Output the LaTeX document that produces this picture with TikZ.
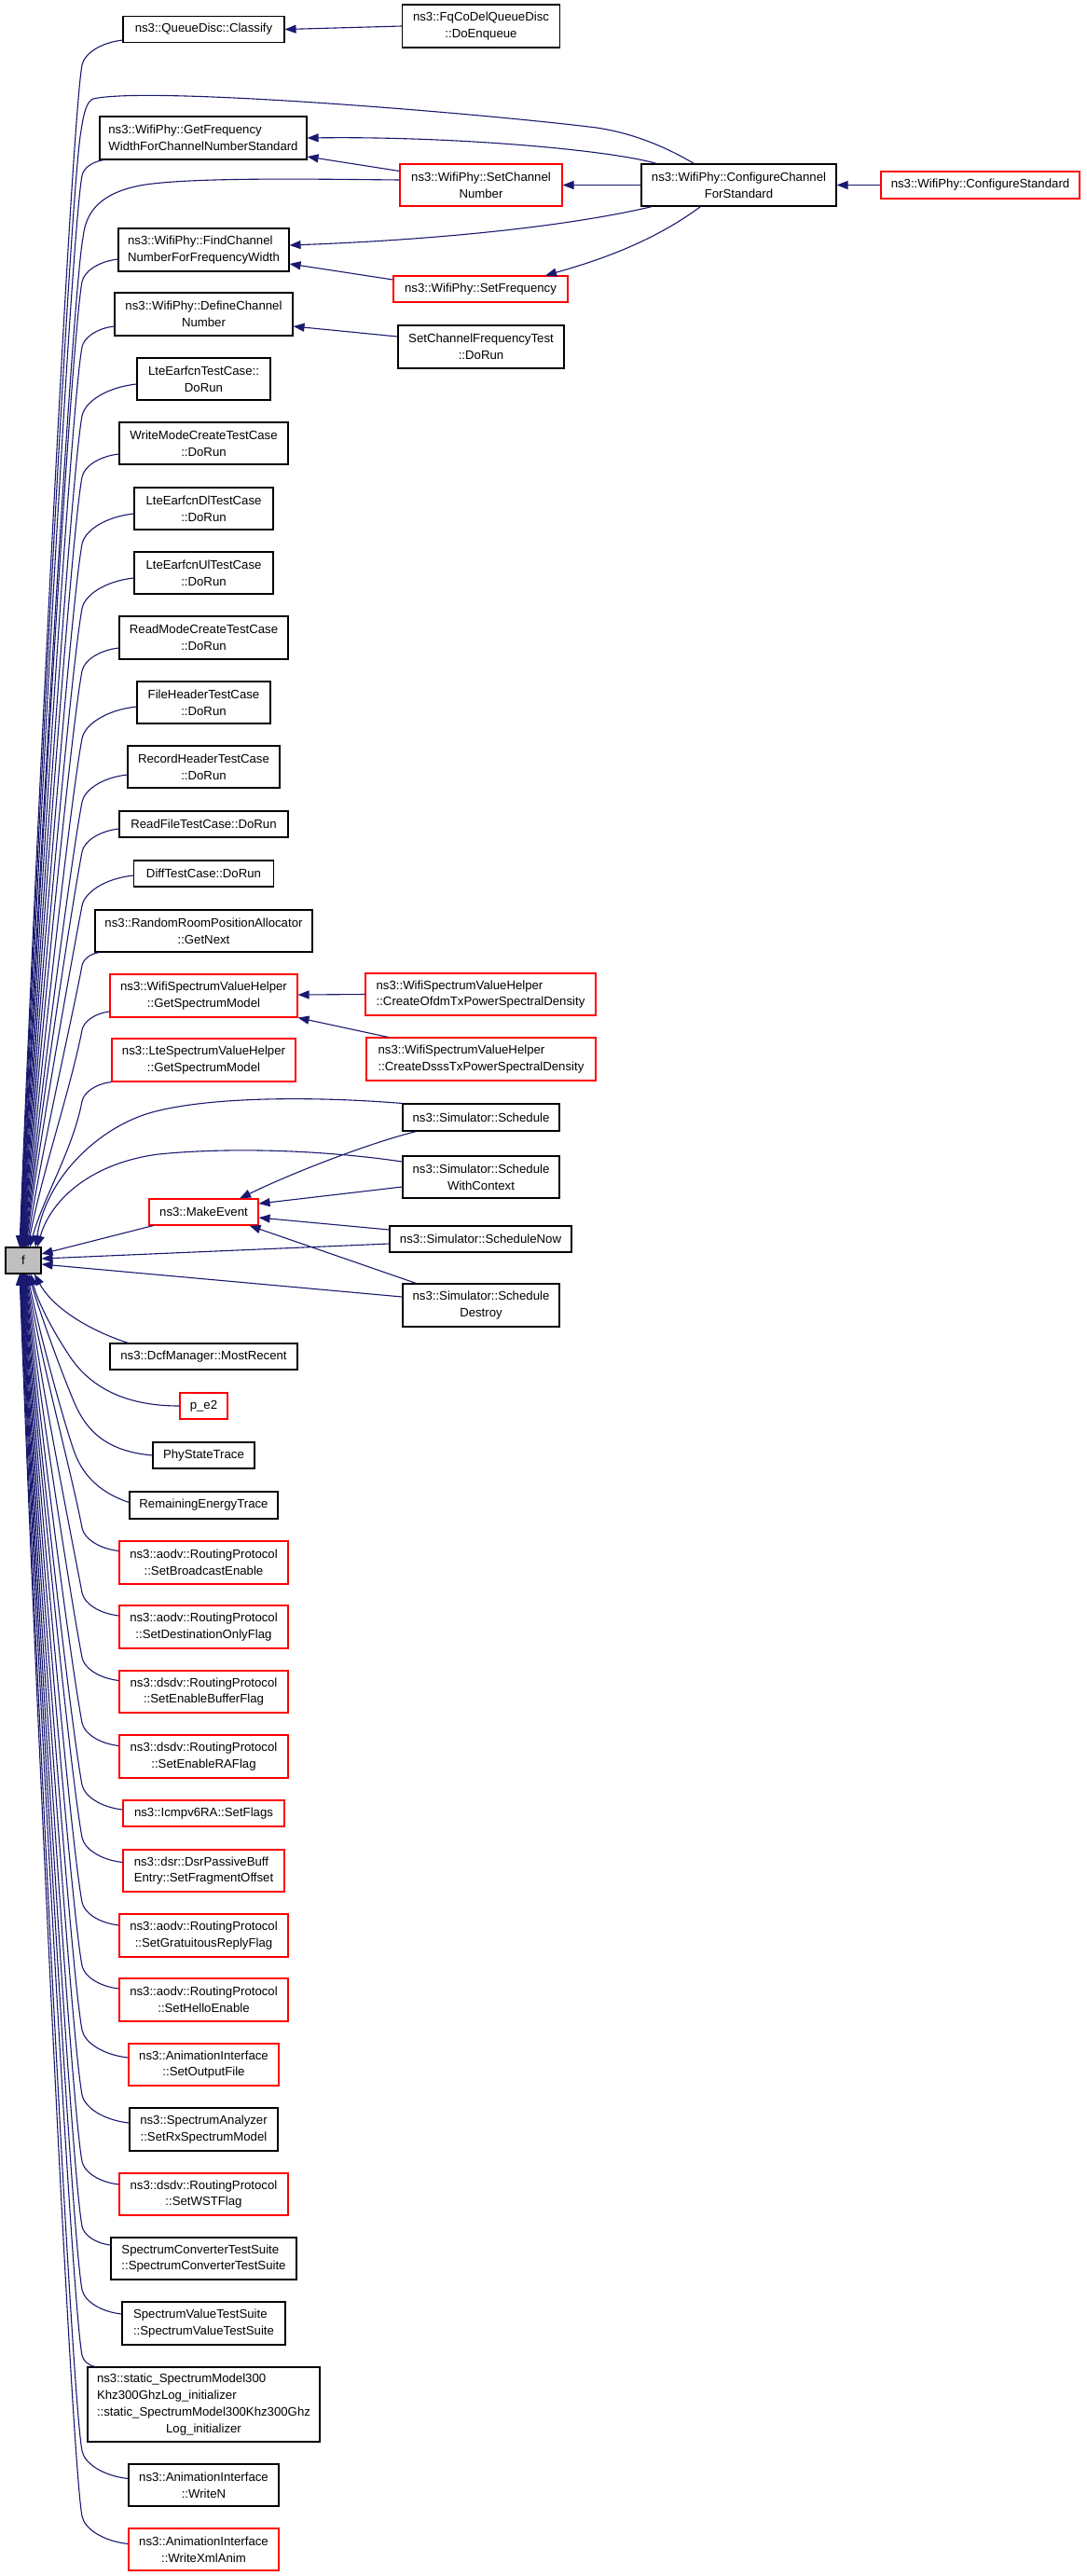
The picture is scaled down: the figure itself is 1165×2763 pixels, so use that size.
\documentclass[tikz,border=0pt]{standalone}
\usepackage{fontspec}
\setmainfont{Liberation Sans}
\usetikzlibrary{arrows.meta,calc}
\definecolor{edgeblue}{HTML}{191970}
\definecolor{boxred}{HTML}{FF0000}
\definecolor{fgrey}{HTML}{BFBFBF}
\tikzset{
  nbox/.style={draw=black, line width=1.1pt, fill=white, inner sep=0pt, align=center,
    font=\fontsize{13.2}{17.8}\selectfont},
  rnbox/.style={nbox, draw=boxred},
  wh/.style 2 args={minimum width=#1pt, minimum height=#2pt},
  calledge/.style={draw=edgeblue, line width=1.1pt, -{Triangle[length=12pt,width=9pt]}},
}
% fan edge from a node above f to the top of f
\newcommand\FanUp[2]{%
\draw[calledge] let \p1=(#1), \p2=(#2),
  \n1={0.5*(\x1-88pt)+5pt},
  \n2={\y1-\n1},
  \n3={\n2-\y2},
  \n4={min(60pt,\n3/3)}
 in (\p1) .. controls ({\x1-0.55*(\x1-88pt)},{\y1-0.1*\n1}) and ({88pt+0.0855*\n1},{\y1-0.55*\n1}) .. (88pt,\n2)
   .. controls ({88pt-0.19*\n4},{\n2-\n4}) and ({\x2+0.25*(88pt-\x2)},{\y2+\n3/3}) .. (\p2);}
% fan edge from a node below f to the bottom of f
\newcommand\FanDown[2]{%
\draw[calledge] let \p1=(#1), \p2=(#2),
  \n1={0.5*(\x1-88pt)+5pt},
  \n2={\y1+\n1},
  \n3={\y2-\n2},
  \n4={min(60pt,\n3/3)}
 in (\p1) .. controls ({\x1-0.55*(\x1-88pt)},{\y1+0.1*\n1}) and ({88pt+0.0855*\n1},{\y1+0.55*\n1}) .. (88pt,\n2)
   .. controls ({88pt-0.19*\n4},{\n2+\n4}) and ({\x2+0.25*(88pt-\x2)},{\y2-\n3/3}) .. (\p2);}
\begin{document}
\begin{tikzpicture}[x=1pt,y=-1pt]
\fill[white] (0,0) rectangle (1165,2763);
\useasboundingbox (0,0) rectangle (1165,2763);

% ---------------- nodes ----------------
\node[nbox, fill=fgrey, wh={38}{28}] (f) at (25,1352) {f};

\node[nbox, wh={173}{28}] (c1) at (218.5,31.5) {ns3::QueueDisc::Classify};
\node[nbox, wh={222}{46}, align=left] (c2) at (218,148) {ns3::WifiPhy::GetFrequency\\WidthForChannelNumberStandard};
\node[nbox, wh={183}{46}, align=left] (c3) at (218.5,268) {ns3::WifiPhy::FindChannel\\NumberForFrequencyWidth};
\node[nbox, wh={191}{46}] (c4) at (218.5,337) {ns3::WifiPhy::DefineChannel\\Number};
\node[nbox, wh={143}{45}] (c5) at (218.5,406.5) {LteEarfcnTestCase::\\DoRun};
\node[nbox, wh={181}{45}] (c6) at (218.5,475.5) {WriteModeCreateTestCase\\::DoRun};
\node[nbox, wh={149}{45}] (c7) at (218.5,545.5) {LteEarfcnDlTestCase\\::DoRun};
\node[nbox, wh={149}{45}] (c8) at (218.5,614.5) {LteEarfcnUlTestCase\\::DoRun};
\node[nbox, wh={181}{46}] (c9) at (218.5,684) {ReadModeCreateTestCase\\::DoRun};
\node[nbox, wh={143}{45}] (c10) at (218.5,753.5) {FileHeaderTestCase\\::DoRun};
\node[nbox, wh={163}{45}] (c11) at (218.5,822.5) {RecordHeaderTestCase\\::DoRun};
\node[nbox, wh={181}{28}] (c12) at (218.5,884) {ReadFileTestCase::DoRun};
\node[nbox, wh={150}{28}] (c13) at (218.5,937) {DiffTestCase::DoRun};
\node[nbox, wh={233}{45}] (c14) at (218.5,998.5) {ns3::RandomRoomPositionAllocator\\::GetNext};
\node[rnbox, wh={201}{46}] (c15) at (218.5,1068) {ns3::WifiSpectrumValueHelper\\::GetSpectrumModel};
\node[rnbox, wh={197}{46}] (c16) at (218.5,1137) {ns3::LteSpectrumValueHelper\\::GetSpectrumModel};
\node[rnbox, wh={117}{28}] (c17) at (218.5,1300) {ns3::MakeEvent};
\node[nbox, wh={201}{28}] (c18) at (218.5,1455) {ns3::DcfManager::MostRecent};
\node[rnbox, wh={51}{28}] (c19) at (218.5,1508) {p\_e2};
\node[nbox, wh={109}{28}] (c20) at (218.5,1561) {PhyStateTrace};
\node[nbox, wh={159}{29}] (c21) at (218.5,1614.5) {RemainingEnergyTrace};
\node[rnbox, wh={181}{46}] (c22) at (218.5,1676) {ns3::aodv::RoutingProtocol\\::SetBroadcastEnable};
\node[rnbox, wh={181}{46}] (c23) at (218.5,1745) {ns3::aodv::RoutingProtocol\\::SetDestinationOnlyFlag};
\node[rnbox, wh={181}{45}] (c24) at (218.5,1814.5) {ns3::dsdv::RoutingProtocol\\::SetEnableBufferFlag};
\node[rnbox, wh={181}{46}] (c25) at (218.5,1884) {ns3::dsdv::RoutingProtocol\\::SetEnableRAFlag};
\node[rnbox, wh={173}{28}] (c26) at (218.5,1945) {ns3::Icmpv6RA::SetFlags};
\node[rnbox, wh={173}{45}, align=left] (c27) at (218.5,2006.5) {ns3::dsr::DsrPassiveBuff\\Entry::SetFragmentOffset};
\node[rnbox, wh={181}{46}] (c28) at (218.5,2076) {ns3::aodv::RoutingProtocol\\::SetGratuitousReplyFlag};
\node[rnbox, wh={181}{46}] (c29) at (218.5,2145) {ns3::aodv::RoutingProtocol\\::SetHelloEnable};
\node[rnbox, wh={161}{45}] (c30) at (218.5,2214.5) {ns3::AnimationInterface\\::SetOutputFile};
\node[nbox, wh={159}{46}] (c31) at (218.5,2284) {ns3::SpectrumAnalyzer\\::SetRxSpectrumModel};
\node[rnbox, wh={181}{45}] (c32) at (218.5,2353.5) {ns3::dsdv::RoutingProtocol\\::SetWSTFlag};
\node[nbox, wh={199}{45}, align=left] (c33) at (218.5,2422.5) {SpectrumConverterTestSuite\\::SpectrumConverterTestSuite};
\node[nbox, wh={175}{46}, align=left] (c34) at (218.5,2492) {SpectrumValueTestSuite\\::SpectrumValueTestSuite};
\node[nbox, wh={249}{80}] (c35) at (218.5,2579) {\begin{tabular}{@{}l@{}}ns3::static\_SpectrumModel300\\Khz300GhzLog\_initializer\\::static\_SpectrumModel300Khz300Ghz\\\multicolumn{1}{@{}c@{}}{Log\_initializer}\end{tabular}};
\node[nbox, wh={161}{45}] (c36) at (218.5,2665.5) {ns3::AnimationInterface\\::WriteN};
\node[rnbox, wh={161}{45}] (c37) at (218.5,2734.5) {ns3::AnimationInterface\\::WriteXmlAnim};

\node[nbox, wh={169}{46}] (d1) at (516,28) {ns3::FqCoDelQueueDisc\\::DoEnqueue};
\node[rnbox, wh={174}{45}] (d2) at (516,198.5) {ns3::WifiPhy::SetChannel\\Number};
\node[rnbox, wh={187}{28}] (d3) at (515.5,310) {ns3::WifiPhy::SetFrequency};
\node[nbox, wh={178}{46}] (d4) at (516,372) {SetChannelFrequencyTest\\::DoRun};
\node[rnbox, wh={247}{45}, align=left] (d5) at (515.5,1066.5) {ns3::WifiSpectrumValueHelper\\::CreateOfdmTxPowerSpectralDensity};
\node[rnbox, wh={246}{46}, align=left] (d6) at (516,1136) {ns3::WifiSpectrumValueHelper\\::CreateDsssTxPowerSpectralDensity};
\node[nbox, wh={168}{29}] (d7) at (516,1198.5) {ns3::Simulator::Schedule};
\node[nbox, wh={168}{45}] (d8) at (516,1262.5) {ns3::Simulator::Schedule\\WithContext};
\node[nbox, wh={195}{28}] (d9) at (515.5,1329) {ns3::Simulator::ScheduleNow};
\node[nbox, wh={168}{46}] (d10) at (516,1400) {ns3::Simulator::Schedule\\Destroy};

\node[nbox, wh={209}{45}] (e1) at (792.5,198.5) {ns3::WifiPhy::ConfigureChannel\\ForStandard};
\node[rnbox, wh={213}{29}] (e2) at (1051.5,198.5) {ns3::WifiPhy::ConfigureStandard};

% ---------------- edges: top cluster ----------------
\draw[calledge] (d1.west) -- (c1.east);
\draw[calledge] ($(d2.west)+(0,-15)$) -- ($(c2.east)+(0,20)$);
\draw[calledge] ($(e1.north west)+(17,0)$) .. controls (650,160) and (480,146) .. (c2.east);
\draw[calledge] (e1.west) -- (d2.east);
\draw[calledge] (e2.west) -- (e1.east);
\draw[calledge] ($(e1.south west)+(12,0)$) .. controls (600,245) and (450,258) .. ($(c3.east)+(0,-5)$);
\draw[calledge] ($(d3.west)+(0,-10)$) -- ($(c3.east)+(0,15)$);
\draw[calledge] ($(e1.south west)+(64,0)$) .. controls (700,260) and (640,280) .. ($(d3.north)+(69.5,0)$);
\draw[calledge] ($(d4.west)+(0,-11)$) -- ($(c4.east)+(0,13)$);

% ---------------- edges: spectrum / simulator ----------------
\draw[calledge] (d5.west) -- ($(c15.east)+(0,-1)$);
\draw[calledge] ($(d6.north west)+(24,0)$) -- (c15.south east);
\draw[calledge] ($(d7.south west)+(15,0)$) .. controls (400,1225) and (320,1255) .. ($(c17.north)+(38.5,0)$);
\draw[calledge] ($(d8.west)+(0,10.5)$) -- ($(c17.east)+(0,-9)$);
\draw[calledge] ($(d9.west)+(0,-10)$) -- ($(c17.east)+(0,6)$);
\draw[calledge] ($(d10.north west)+(15,0)$) -- ($(c17.south east)+(-10,0)$);

% ---------------- edges into f from the right ----------------
\draw[calledge] ($(c17.south west)+(5,0)$) -- ($(f.east)+(0,-7)$);
\draw[calledge] (d7.north west) .. controls (340,1176) and (230,1176) .. (167,1192) .. controls (110,1206) and (50,1260) .. ($(f.north)+(13,0)$);
\draw[calledge] ($(d8.west)+(0,-16.5)$) .. controls (350,1234) and (250,1230) .. (170,1238) .. controls (100,1247) and (55,1285) .. ($(f.north)+(15,0)$);
\draw[calledge] ($(d9.west)+(0,5)$) -- ($(f.east)+(0,-2)$);
\draw[calledge] ($(d10.west)+(0,-9)$) -- ($(f.east)+(0,4)$);

% ---------------- upper fan into top of f ----------------
\FanUp{$(c1.south west)+(0,-3)$}{$(f.north)+(-4,0)$}
\draw[calledge] ($(e1.north west)+(57,0)$) .. controls (715,158) and (680,143) .. (640,137)
   .. controls (520,122) and (160,92) .. (100,106) .. controls (93,109) and (90,120) .. (87,140)
   .. controls (75.6,200) and (37.9,939) .. ($(f.north)+(-3.5,0)$);
\FanUp{$(c2.south west)+(5,0)$}{$(f.north)+(-3,0)$}
\draw[calledge] ($(d2.west)+(0,-5.5)$) .. controls (330,192) and (200,190) .. (150,199)
   .. controls (110,207) and (92,225) .. (89,255)
   .. controls (77.6,315) and (39.1,977) .. ($(f.north)+(-2.5,0)$);
\FanUp{$(c3.west)+(0,10)$}{$(f.north)+(-2,0)$}
\FanUp{$(c4.west)+(0,13)$}{$(f.north)+(-1.5,0)$}
\FanUp{$(c5.west)+(0,5.5)$}{$(f.north)+(-1,0)$}
\FanUp{$(c6.west)+(0,11.5)$}{$(f.north)+(-0.5,0)$}
\FanUp{$(c7.west)+(0,5.5)$}{$(f.north)+(0,0)$}
\FanUp{$(c8.west)+(0,5.5)$}{$(f.north)+(0.5,0)$}
\FanUp{$(c9.west)+(0,11)$}{$(f.north)+(1,0)$}
\FanUp{$(c10.west)+(0,4.5)$}{$(f.north)+(1.5,0)$}
\FanUp{$(c11.west)+(0,8.5)$}{$(f.north)+(2,0)$}
\FanUp{$(c12.west)+(0,5)$}{$(f.north)+(2.5,0)$}
\FanUp{$(c13.west)+(0,2)$}{$(f.north)+(3,0)$}
\FanUp{$(c14.south west)+(5,0)$}{$(f.north)+(4,0)$}
\FanUp{$(c15.west)+(0,17)$}{$(f.north)+(5,0)$}
\FanUp{$(c16.south west)+(0,0)$}{$(f.north)+(7,0)$}

% ---------------- lower fan into bottom of f ----------------
\draw[calledge] ($(c18.north west)+(20,0)$) .. controls (90,1425) and (55,1400) .. ($(f.south)+(12,0)$);
\draw[calledge] (c19.west) .. controls (130,1508) and (95,1485) .. (75,1455) .. controls (55,1425) and (40,1395) .. ($(f.south)+(8,0)$);
\draw[calledge] (c20.west) .. controls (120,1557) and (95,1540) .. (80,1505) .. controls (65,1470) and (40,1400) .. ($(f.south)+(6,0)$);
\draw[calledge] ($(c21.west)+(0,-3)$) .. controls (110,1602) and (90,1585) .. (80,1558) .. controls (68,1525) and (40,1420) .. ($(f.south)+(4.5,0)$);
\FanDown{$(c22.west)+(0,-12.5)$}{$(f.south)+(3.5,0)$}
\FanDown{$(c23.west)+(0,-12)$}{$(f.south)+(3,0)$}
\FanDown{$(c24.west)+(0,-12)$}{$(f.south)+(2.5,0)$}
\FanDown{$(c25.west)+(0,-11.5)$}{$(f.south)+(2,0)$}
\FanDown{$(c26.west)+(0,-4)$}{$(f.south)+(1.5,0)$}
\FanDown{$(c27.west)+(0,-9)$}{$(f.south)+(1,0)$}
\FanDown{$(c28.west)+(0,-11)$}{$(f.south)+(0.5,0)$}
\FanDown{$(c29.west)+(0,-12)$}{$(f.south)+(0,0)$}
\FanDown{$(c30.west)+(0,-7.5)$}{$(f.south)+(-0.5,0)$}
\FanDown{$(c31.west)+(0,-7)$}{$(f.south)+(-1,0)$}
\FanDown{$(c32.west)+(0,-10.5)$}{$(f.south)+(-1.5,0)$}
\FanDown{$(c33.west)+(0,-14.5)$}{$(f.south)+(-2,0)$}
\FanDown{$(c34.west)+(0,-10)$}{$(f.south)+(-2.5,0)$}
\FanDown{$(c35.north west)+(9,0)$}{$(f.south)+(-3,0)$}
\FanDown{$(c36.west)+(0,-7)$}{$(f.south)+(-3.5,0)$}
\FanDown{$(c37.west)+(0,-6)$}{$(f.south)+(-4,0)$}
\end{tikzpicture}
\end{document}
